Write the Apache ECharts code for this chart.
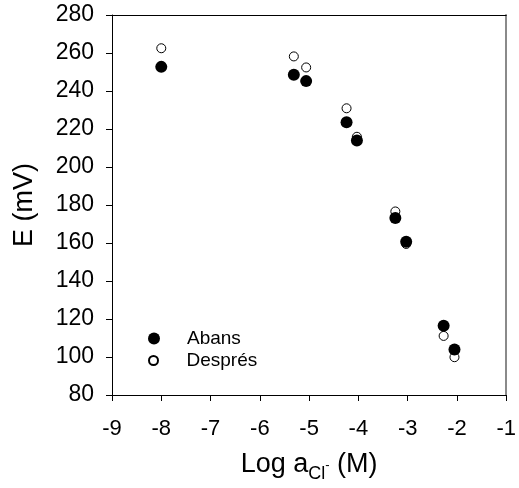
<!DOCTYPE html>
<html>
<head>
<meta charset="utf-8">
<script src="https://cdn.jsdelivr.net/npm/echarts@6/dist/echarts.min.js"></script>
<style>
  html, body { margin: 0; padding: 0; background: #fff; }
  #chart { width: 519px; height: 488px; }
</style>
</head>
<body>
<div id="chart"></div>
<script>
// Chloride activity (log scale) for each measurement
const logActivity = [-8.0, -5.31, -5.06, -4.24, -4.03, -3.25, -3.03, -2.27, -2.05];
// Electrode potential before and after (mV)
const potentialAbans = [252.7, 248.6, 245.2, 223.6, 214.0, 173.1, 160.7, 116.5, 103.9];
const potentialDespres = [262.5, 258.2, 252.4, 230.9, 215.9, 176.6, 159.5, 111.1, 99.9];

const seriesNames = ['Abans', 'Després'];

const pairs = (xs, ys) => xs.map((x, i) => [x, ys[i]]);

const FONT = '"Liberation Sans", Arial, sans-serif';

const chart = echarts.init(document.getElementById('chart'), null, { renderer: 'canvas' });

chart.setOption({
  animation: false,
  backgroundColor: '#fff',
  grid: { left: 112, right: 9, top: 15, bottom: 91, containLabel: false },
  legend: [
    {
      data: [seriesNames[0]],
      left: 143, top: 324,
      orient: 'vertical',
      itemWidth: 56, itemHeight: 12,
      symbolKeepAspect: true,
      textStyle: { fontFamily: FONT, fontSize: 19, color: '#000' }
    },
    {
      data: [seriesNames[1]],
      left: 143, top: 346,
      orient: 'vertical',
      itemWidth: 56, itemHeight: 9,
      symbolKeepAspect: true,
      textStyle: { fontFamily: FONT, fontSize: 19, color: '#000' }
    }
  ],
  xAxis: [
    {
      type: 'value', position: 'bottom',
      min: -9, max: -1, interval: 1,
      name: 'Log a{sub|Cl}{sup|-} (M)',
      nameLocation: 'middle', nameGap: 52,
      nameTextStyle: {
        fontFamily: FONT, fontSize: 27, color: '#000', lineHeight: 36,
        rich: {
          sub: { fontFamily: FONT, fontSize: 18, color: '#000', lineHeight: 18, verticalAlign: 'bottom' },
          sup: { fontFamily: FONT, fontSize: 13, color: '#000', lineHeight: 36, verticalAlign: 'middle' }
        }
      },
      axisLine: { show: true, onZero: false, lineStyle: { color: '#000', width: 1 } },
      axisTick: { show: true, inside: false, length: 6, lineStyle: { color: '#000' } },
      axisLabel: { fontFamily: FONT, fontSize: 22, color: '#000', margin: 23 },
      splitLine: { show: false }
    },
    {
      type: 'value', position: 'top',
      min: -9, max: -1, interval: 1,
      axisLine: { show: true, onZero: false, lineStyle: { color: '#000', width: 1 } },
      axisTick: { show: false }, axisLabel: { show: false }, splitLine: { show: false }
    }
  ],
  yAxis: [
    {
      type: 'value', position: 'left',
      min: 80, max: 280, interval: 20,
      name: 'E (mV)',
      nameLocation: 'middle', nameGap: 74, nameRotate: 90,
      nameTextStyle: { fontFamily: FONT, fontSize: 27, color: '#000' },
      axisLine: { show: true, onZero: false, lineStyle: { color: '#000', width: 1 } },
      axisTick: { show: true, inside: false, length: 6, lineStyle: { color: '#000' } },
      axisLabel: { fontFamily: FONT, fontSize: 23, color: '#000', margin: 18 },
      splitLine: { show: false }
    },
    {
      type: 'value', position: 'right',
      min: 80, max: 280, interval: 20,
      axisLine: { show: true, onZero: false, lineStyle: { color: '#8a8a8a', width: 2 } },
      axisTick: { show: false }, axisLabel: { show: false }, splitLine: { show: false }
    }
  ],
  series: [
    {
      name: seriesNames[1], type: 'scatter',
      data: pairs(logActivity, potentialDespres),
      symbol: 'circle', symbolSize: 9,
      itemStyle: { color: '#fff', borderColor: '#000', borderWidth: 1, opacity: 1 },
      z: 2
    },
    {
      name: seriesNames[0], type: 'scatter',
      data: pairs(logActivity, potentialAbans),
      symbol: 'circle', symbolSize: 12,
      itemStyle: { color: '#000', borderColor: '#000', borderWidth: 0, opacity: 1 },
      z: 3
    }
  ]
});
</script>
</body>
</html>
